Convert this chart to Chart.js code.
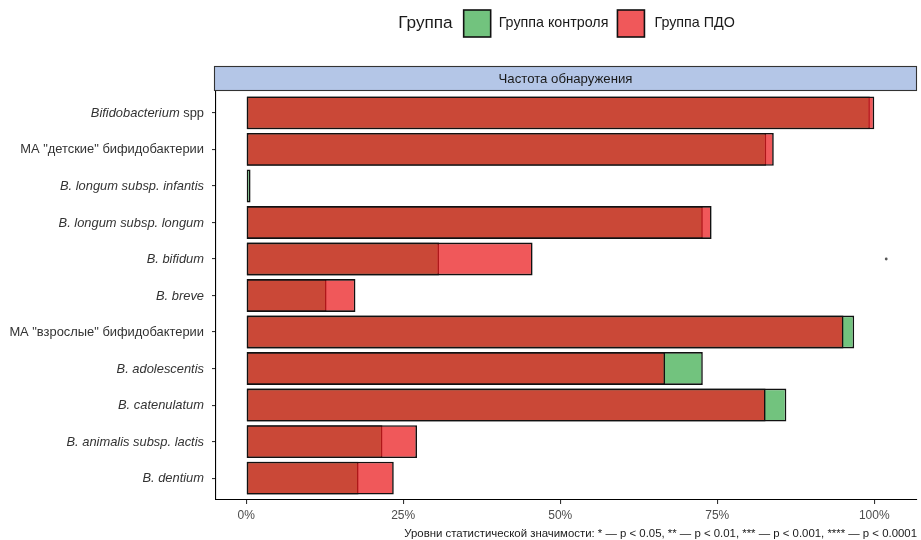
<!DOCTYPE html>
<html><head><meta charset="utf-8">
<script src="https://cdn.jsdelivr.net/npm/chart.js@4/dist/chart.umd.min.js"></script>
<style>html,body{margin:0;padding:0;background:#fff}canvas{display:block}</style>
</head><body>
<canvas id="c" width="921" height="540"></canvas>
<script>
// ---- data ----
const categories = [
  "Bifidobacterium spp",
  "МА \"детские\" бифидобактерии",
  "B. longum subsp. infantis",
  "B. longum subsp. longum",
  "B. bifidum",
  "B. breve",
  "МА \"взрослые\" бифидобактерии",
  "B. adolescentis",
  "B. catenulatum",
  "B. animalis subsp. lactis",
  "B. dentium"
];
// number of leading characters set in italics (-1 = whole label)
const italicChars = [15, 0, -1, -1, -1, -1, 0, -1, -1, -1, -1];
const controlGroup = [99.3, 82.8, 0.7, 72.7, 30.7, 12.8, 96.8, 72.7, 86.0, 21.7, 17.9];
const pdoGroup     = [100.0, 84.0, 0.0, 74.1, 45.6, 17.4, 95.1, 66.7, 82.7, 27.2, 23.5];
const xTicks = [0, 25, 50, 75, 100];
const markX = [101.9];
const markRow = [4];
const seriesNames = ["Группа контроля", "Группа ПДО"];
const legendTitle = "Группа";
const stripTitle = "Частота обнаружения";
const footnote = "Уровни статистической значимости: * — p < 0.05, ** — p < 0.01, *** — p < 0.001, **** — p < 0.0001";

const GREEN = "rgb(114,195,126)";
const RED = "rgba(234,26,29,0.73)";
const FONT = "'Liberation Sans', Arial, sans-serif";

const decor = {
  id: "decor",
  afterDraw(chart) {
    const ctx = chart.ctx;
    const ca = chart.chartArea;
    const ys = chart.scales.y;
    ctx.save();
    // strip
    const sx = ca.left - 2, sw = ca.right - sx, sy = 66, sh = 24;
    ctx.fillStyle = "#B4C6E7";
    ctx.fillRect(sx, sy, sw, sh);
    ctx.strokeStyle = "#333";
    ctx.lineWidth = 1.1;
    ctx.strokeRect(sx + 0.5, sy + 0.5, sw - 1, sh);
    ctx.fillStyle = "#1A1A1A";
    ctx.font = "13.2px " + FONT;
    ctx.textAlign = "center";
    ctx.textBaseline = "middle";
    ctx.fillText(stripTitle, sx + sw / 2, sy + sh / 2 + 1);

    // y labels
    ctx.fillStyle = "#333";
    ctx.textAlign = "left";
    const rightX = ca.left - 12;
    const fs = "12.9px ";
    categories.forEach((lab, i) => {
      const y = ys.getPixelForValue(i);
      const n = italicChars[i] < 0 ? lab.length : italicChars[i];
      const a = lab.slice(0, n), b = lab.slice(n);
      ctx.font = "italic " + fs + FONT;
      const wa = ctx.measureText(a).width;
      ctx.font = fs + FONT;
      const wb = ctx.measureText(b).width;
      let x = rightX - wa - wb;
      ctx.font = "italic " + fs + FONT;
      ctx.fillText(a, x, y + 0.5);
      ctx.font = fs + FONT;
      ctx.fillText(b, x + wa, y + 0.5);
    });

    // legend
    const ly = 23.5, box = 27;
    const tf = "17.2px " + FONT, lf = "14.3px " + FONT;
    ctx.font = tf;
    const wt = ctx.measureText(legendTitle).width;
    ctx.font = lf;
    const w1 = ctx.measureText(seriesNames[0]).width;
    const w2 = ctx.measureText(seriesNames[1]).width;
    const total = wt + 11 + box + 8 + w1 + 9 + box + 10 + w2;
    let lx = (ca.left + ca.right) / 2 - total / 2;
    ctx.fillStyle = "#1A1A1A";
    ctx.font = tf;
    ctx.fillText(legendTitle, lx, ly);
    lx += wt + 11;
    const drawBox = (col) => {
      ctx.fillStyle = col;
      ctx.fillRect(lx, ly - box / 2, box, box);
      ctx.strokeStyle = "#111";
      ctx.lineWidth = 1.6;
      ctx.strokeRect(lx, ly - box / 2, box, box);
    };
    drawBox(GREEN);
    lx += box + 8;
    ctx.fillStyle = "#1A1A1A";
    ctx.font = lf;
    ctx.fillText(seriesNames[0], lx, ly);
    lx += w1 + 9;
    drawBox(RED);
    lx += box + 10;
    ctx.fillStyle = "#1A1A1A";
    ctx.font = lf;
    ctx.fillText(seriesNames[1], lx, ly);

    // footnote
    ctx.font = "11.4px " + FONT;
    ctx.textAlign = "right";
    ctx.fillStyle = "#1A1A1A";
    ctx.fillText(footnote, 917, 534);
    ctx.restore();
  }
};

const barCommon = {
  type: "bar",
  grouped: false,
  barPercentage: 0.9,
  categoryPercentage: 1,
  borderColor: "#111",
  borderWidth: 1.6,
  borderSkipped: false,
  xAxisID: "x",
  yAxisID: "y"
};

new Chart(document.getElementById("c"), {
  type: "bar",
  data: {
    datasets: [
      Object.assign({}, barCommon, {
        label: seriesNames[1],
        data: pdoGroup.map((v, i) => ({ x: v, y: i })),
        backgroundColor: RED,
        order: 1
      }),
      Object.assign({}, barCommon, {
        label: seriesNames[0],
        data: controlGroup.map((v, i) => ({ x: v, y: i })),
        backgroundColor: GREEN,
        order: 2
      }),
      {
        type: "scatter",
        label: "mark",
        data: markX.map((x, k) => ({ x: x, y: markRow[k] })),
        pointRadius: 1.4,
        pointBackgroundColor: "#555",
        pointBorderWidth: 0,
        xAxisID: "x",
        yAxisID: "y",
        order: 0
      }
    ]
  },
  options: {
    indexAxis: "y",
    responsive: false,
    animation: false,
    events: [],
    layout: { padding: { top: 91, right: 2, left: 0, bottom: 0 } },
    plugins: { legend: { display: false }, tooltip: { enabled: false }, title: { display: false } },
    scales: {
      x: {
        type: "linear",
        offset: false,
        min: -4.8,
        max: 106.8,
        afterBuildTicks: (s) => { s.ticks = xTicks.map((v) => ({ value: v })); },
        afterFit: (s) => { s.height = 40; },
        border: { display: true, color: "#000", width: 1.1 },
        grid: { display: true, offset: false, drawOnChartArea: false, drawTicks: true, tickLength: 4, color: "#333", lineWidth: 1.1 },
        ticks: {
          autoSkip: false, maxRotation: 0, padding: 4,
          color: "#4D4D4D",
          font: { family: FONT, size: 12 },
          callback: (v) => v + "%"
        }
      },
      y: {
        type: "linear",
        offset: false,
        reverse: true,
        min: -0.6,
        max: 10.6,
        afterBuildTicks: (s) => { s.ticks = categories.map((c, i) => ({ value: i })); },
        afterFit: (s) => { s.width = 216; },
        border: { display: true, color: "#000", width: 1.1 },
        grid: { display: true, offset: false, drawOnChartArea: false, drawTicks: true, tickLength: 4, color: "#333", lineWidth: 1.1 },
        ticks: { autoSkip: false, callback: () => "" }
      }
    }
  },
  plugins: [decor]
});
</script>
</body></html>
